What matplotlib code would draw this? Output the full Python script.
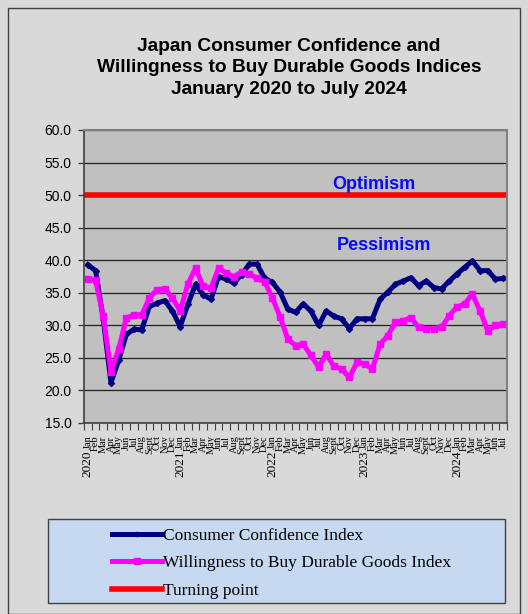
import matplotlib
matplotlib.use("Agg")
import matplotlib.pyplot as plt
from matplotlib.patches import Rectangle
import numpy as np

# monthly values, Jan 2020 .. Jul 2024
months = ["Jan", "Feb", "Mar", "Apr", "May", "Jun", "Jul", "Aug", "Sept", "Oct", "Nov", "Dec"]
years = ["2020", "2021", "2022", "2023", "2024"]

confidence = [39.3, 38.4, 31.0, 21.2, 24.6, 28.6, 29.4, 29.3, 32.9, 33.4, 33.8, 32.2,
              29.8, 33.2, 36.3, 34.7, 34.0, 37.5, 37.1, 36.5, 37.8, 39.4, 39.4, 37.2,
              36.6, 35.1, 32.5, 32.0, 33.3, 32.2, 30.0, 32.2, 31.4, 31.0, 29.5, 31.0,
              31.0, 31.0, 34.0, 35.1, 36.3, 36.8, 37.3, 36.1, 36.8, 35.8, 35.6, 36.8,
              37.9, 38.9, 39.9, 38.4, 38.4, 37.1, 37.2]
durables = [37.1, 36.9, 31.5, 22.9, 26.3, 31.1, 31.6, 31.6, 34.2, 35.5, 35.6, 34.2,
            32.2, 36.3, 38.8, 36.0, 35.7, 38.8, 38.0, 37.5, 38.2, 37.9, 37.2, 36.7,
            34.2, 31.3, 27.9, 26.9, 27.1, 25.4, 23.6, 25.6, 23.7, 23.3, 22.0, 24.3,
            24.1, 23.3, 27.1, 28.4, 30.5, 30.7, 31.2, 29.7, 29.4, 29.5, 29.7, 31.5,
            32.8, 33.3, 34.8, 32.2, 29.2, 30.0, 30.2]
turning_point = 50

W, H = 528, 614
fig = plt.figure(figsize=(W / 100, H / 100), dpi=100)
fig.patch.set_facecolor("#d9d9d9")
fig.patches.append(Rectangle((8 / W, 0), 512 / W, 1 - 8 / H, transform=fig.transFigure,
                             facecolor="none", edgecolor="#404040", lw=1))

ax = fig.add_axes([84 / W, 1 - 423 / H, 423 / W, 293 / H])
ax.set_facecolor("#c0c0c0")

x = np.arange(len(confidence))
ax.plot(x, confidence, color="#000080", lw=3.6, marker="D", markersize=3,
        label="Consumer Confidence Index")
ax.plot(x, durables, color="#ff00ff", lw=3.6, marker="s", markersize=5,
        label="Willingness to Buy Durable Goods Index")
ax.axhline(turning_point, color="#ff0000", lw=4, label="Turning point")

ax.set_ylim(15, 60)
ax.set_yticks(np.arange(15, 61, 5))
ax.set_yticklabels(["%.1f" % v for v in np.arange(15, 61, 5)],
                   fontsize=10, family="Liberation Sans")
ax.yaxis.grid(True, color="#202020", lw=0.9)
ax.set_axisbelow(True)
ax.tick_params(axis="y", length=4, width=1, color="#404040", pad=5)

ax.set_xlim(-0.5, len(x) - 0.5)
ax.set_xticks(np.arange(-0.5, len(x), 1.0))
ax.set_xticklabels([])
ax.tick_params(axis="x", length=5, width=0.8, color="#404040")
ax.set_xticks(x, minor=True)
ax.set_xticklabels([months[i % 12] for i in x], minor=True, rotation=90,
                   fontsize=7.5, family="Liberation Serif", va="top")
ax.tick_params(axis="x", which="minor", length=0, pad=9)
for k, yr in enumerate(years):
    ax.text(k * 12, -0.14, yr, transform=ax.get_xaxis_transform(), rotation=90,
            ha="center", va="center", fontsize=9.5, family="Liberation Serif")

for side in ["top", "right"]:
    ax.spines[side].set_color("#808080")
    ax.spines[side].set_linewidth(1.5)
for side in ["left", "bottom"]:
    ax.spines[side].set_color("#404040")
    ax.spines[side].set_linewidth(1.2)

ax.text(0.686, 0.815, "Optimism", transform=ax.transAxes, color="#0a0aee",
        fontsize=13, fontweight="bold", family="Liberation Sans", ha="center", va="center")
ax.text(0.708, 0.607, "Pessimism", transform=ax.transAxes, color="#0a0aee",
        fontsize=13, fontweight="bold", family="Liberation Sans", ha="center", va="center")

fig.text(289 / W, 1 - 68 / H,
         "Japan Consumer Confidence and\nWillingness to Buy Durable Goods Indices\nJanuary 2020 to July 2024",
         ha="center", va="center", fontsize=13.8, fontweight="bold",
         family="Liberation Sans", linespacing=1.32)

fig.patches.append(Rectangle((48 / W, 1 - 603 / H), 457 / W, 84 / H, transform=fig.transFigure,
                             facecolor="#c6d9f0", edgecolor="#404040", lw=1))
fig.legend(loc="upper left", bbox_to_anchor=(96 / W, 1 - 512 / H), frameon=False,
           prop={"family": "Liberation Serif", "size": 12.5}, handlelength=2.9,
           handletextpad=0.05, labelspacing=0.66, markerscale=0.8)

fig.savefig("out.png", dpi=100, facecolor=fig.get_facecolor())
